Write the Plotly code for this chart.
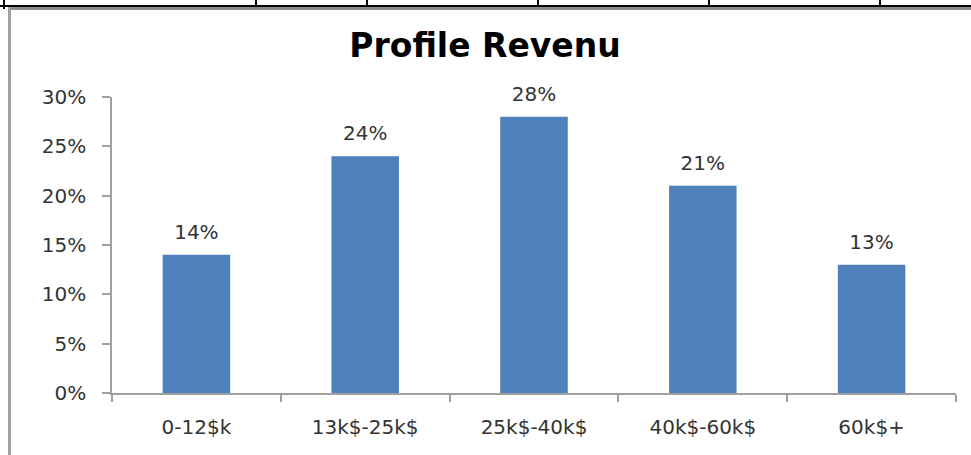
import plotly.graph_objects as go

categories = ["0-12$k", "13k$-25k$", "25k$-40k$", "40k$-60k$", "60k$+"]
values = [0.14, 0.24, 0.28, 0.21, 0.13]
title_text = "Profile Revenu"

W, H = 971, 455
L, R, T, B = 112, 15, 97, 62
PW, PH = W - L - R, H - T - B

def xp(px):
    return (px - L) / PW

def yp(py):
    return (H - B - py) / PH

fig = go.Figure()
fig.add_trace(go.Bar(
    x=categories, y=values,
    marker=dict(color="#4F81BD", line=dict(width=0)),
    hoverinfo="skip",
))
fig.add_trace(go.Scatter(
    x=categories, y=values,
    mode="markers+text",
    text=[f"{v:.0%}" for v in values],
    textposition="top center",
    marker=dict(size=16, opacity=0),
    textfont=dict(family="DejaVu Sans", size=20, color="#333333"),
    cliponaxis=False,
    hoverinfo="skip",
))

shapes = []
shapes.append(dict(type="line", xref="paper", yref="paper", x0=xp(0), x1=xp(971), y0=yp(6), y1=yp(6),
                   line=dict(color="black", width=2)))
for vx, y1 in [(4, 9), (256, 6), (367, 6), (538, 6), (709, 6), (880, 6)]:
    shapes.append(dict(type="line", xref="paper", yref="paper", x0=xp(vx), x1=xp(vx), y0=yp(0), y1=yp(y1),
                       line=dict(color="black", width=2)))
shapes.append(dict(type="line", xref="paper", yref="paper", x0=xp(8), x1=xp(971), y0=yp(8.5), y1=yp(8.5),
                   line=dict(color="#8c8c8c", width=3)))
shapes.append(dict(type="line", xref="paper", yref="paper", x0=xp(9.5), x1=xp(9.5), y0=yp(7), y1=yp(455),
                   line=dict(color="#a0a0a0", width=3)))

fig.update_layout(
    width=W, height=H,
    margin=dict(l=L, r=R, t=T, b=B, autoexpand=False),
    paper_bgcolor="white", plot_bgcolor="white",
    bargap=0.6,
    showlegend=False,
    title=dict(text=f"<b>{title_text}</b>", x=(485) / W, xanchor="center",
               y=1 - 45 / H, yanchor="middle",
               font=dict(family="DejaVu Sans", size=33, color="black")),
    shapes=shapes,
    xaxis=dict(
        type="category", tickson="boundaries",
        showline=True, linecolor="#a0a0a0", linewidth=1.5,
        ticks="outside", ticklen=7, tickcolor="#a0a0a0", tickwidth=1.5,
        showgrid=False, zeroline=False,
        tickfont=dict(family="DejaVu Sans", size=20, color="#333333"),
        ticklabelstandoff=15,
    ),
    yaxis=dict(
        range=[0, 0.30], tickvals=[0, 0.05, 0.10, 0.15, 0.20, 0.25, 0.30],
        tickformat=".0%",
        showline=True, linecolor="#a0a0a0", linewidth=1.5,
        ticks="outside", ticklen=8, tickcolor="#a0a0a0", tickwidth=1.5,
        showgrid=False, zeroline=False,
        tickfont=dict(family="DejaVu Sans", size=20, color="#333333"),
        ticklabelstandoff=12,
    ),
)

fig.write_html("out.html", config={"displayModeBar": False},
               post_script="document.body.style.margin='0';document.body.style.overflow='hidden';")
